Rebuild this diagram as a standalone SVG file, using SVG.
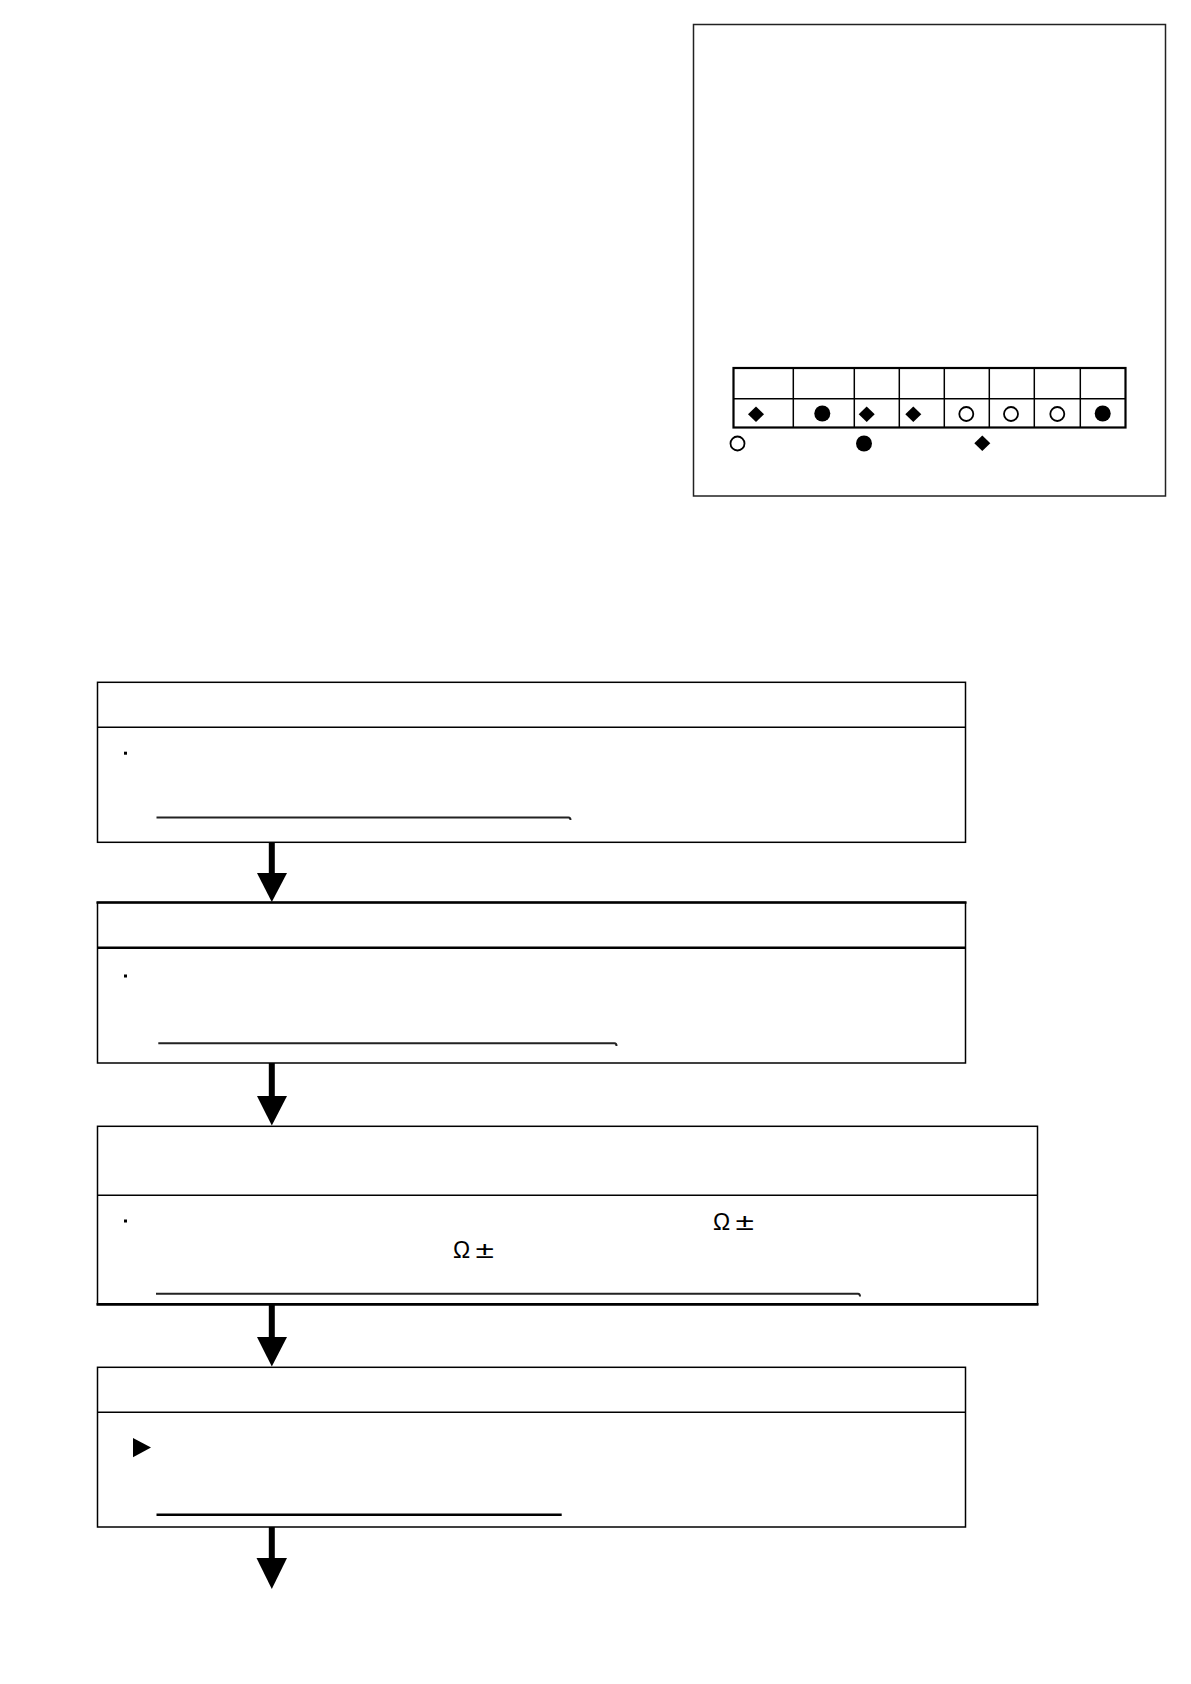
<svg xmlns="http://www.w3.org/2000/svg" width="1191" height="1684" viewBox="0 0 1191 1684">
<style>
.box{fill:none;stroke:#000;stroke-width:1.5}
.div{stroke:#000;stroke-width:1.5}
.ul{fill:none;stroke:#222;stroke-width:2}
.ulb{fill:none;stroke:#000;stroke-width:2.5}
.dot{fill:#000}
.sym{fill:#000}
.osym{fill:#fff;stroke:#000;stroke-width:1.8}
.grid{stroke:#000;stroke-width:1.5}
.shaft{stroke:#000;stroke-width:6}
.head{fill:#000}
.t{font-family:"Liberation Sans",Arial,sans-serif;font-size:23px;fill:#000}
.pm{font-family:"Liberation Sans",Arial,sans-serif;font-size:24px;fill:#000}
</style>
<rect width="1191" height="1684" fill="#fff"/>
<g id="panel">
<rect x="693.5" y="24.5" width="472" height="471.5" fill="none" stroke="#222" stroke-width="1.5"/>
<g id="table">
<rect x="733.5" y="368" width="392" height="59.5" fill="none" stroke="#000" stroke-width="2.2"/>
<line class="grid" x1="733.5" y1="398.7" x2="1125.5" y2="398.7"/>
<line class="grid" x1="793.3" y1="368" x2="793.3" y2="427.5"/>
<line class="grid" x1="854.3" y1="368" x2="854.3" y2="427.5"/>
<line class="grid" x1="899.3" y1="368" x2="899.3" y2="427.5"/>
<line class="grid" x1="944.3" y1="368" x2="944.3" y2="427.5"/>
<line class="grid" x1="989.3" y1="368" x2="989.3" y2="427.5"/>
<line class="grid" x1="1034.3" y1="368" x2="1034.3" y2="427.5"/>
<line class="grid" x1="1080.3" y1="368" x2="1080.3" y2="427.5"/>
<polygon class="sym" points="756,406.5 764,414.3 756,422 748,414.3"/>
<circle class="sym" cx="822.3" cy="413.5" r="8"/>
<polygon class="sym" points="866.7,406.5 874.7,414.3 866.7,422 858.7,414.3"/>
<polygon class="sym" points="913.3,406.5 921.3,414.3 913.3,422 905.3,414.3"/>
<circle class="osym" cx="966.3" cy="414" r="7"/>
<circle class="osym" cx="1011" cy="414" r="7"/>
<circle class="osym" cx="1057.3" cy="414" r="7"/>
<circle class="sym" cx="1102.7" cy="413.5" r="8"/>
</g>
<g id="legend">
<circle class="osym" cx="737.5" cy="443.5" r="7"/>
<circle class="sym" cx="864" cy="443.5" r="8"/>
<polygon class="sym" points="982.3,435.5 990.3,443.3 982.3,451 974.3,443.3"/>
</g>
</g>
<g id="step1">
<rect class="box" x="97.5" y="682.3" width="868" height="160"/>
<line class="div" x1="97.5" y1="727.3" x2="965.5" y2="727.3"/>
<rect class="dot" x="124" y="751.7" width="3" height="3"/>
<path class="ul" d="M156.5 817.5 H568.5 Q570.5 817.5 570.5 820"/>
</g>
<g id="step2">
<rect class="box" x="97.5" y="902.5" width="868" height="160.5"/>
<line x1="96.5" y1="902.5" x2="966.5" y2="902.5" stroke="#000" stroke-width="2.4"/>
<line class="div" style="stroke-width:2.4" x1="97.5" y1="947.8" x2="965.5" y2="947.8"/>
<rect class="dot" x="124" y="974.5" width="3" height="3"/>
<path class="ul" d="M158.3 1043.3 H614.5 Q616.5 1043.3 616.5 1046"/>
</g>
<g id="step3">
<rect class="box" x="97.5" y="1126.3" width="940" height="178"/>
<line x1="96.5" y1="1304.3" x2="1038.5" y2="1304.3" stroke="#000" stroke-width="2.8"/>
<line class="div" x1="97.5" y1="1195.3" x2="1037.5" y2="1195.3"/>
<rect class="dot" x="124" y="1219.5" width="3" height="3"/>
<text class="t" x="713" y="1229.5">Ω</text>
<text class="pm" transform="translate(735.5 1229.5) scale(1.4 1)" x="0" y="0">±</text>
<text class="t" x="453" y="1258">Ω</text>
<text class="pm" transform="translate(475.5 1258) scale(1.4 1)" x="0" y="0">±</text>
<path class="ul" d="M156 1293.7 H858 Q860 1293.7 860 1296.5"/>
</g>
<g id="step4">
<rect class="box" x="97.5" y="1367.3" width="868" height="159.7"/>
<line class="div" x1="97.5" y1="1412.3" x2="965.5" y2="1412.3"/>
<polygon class="sym" points="133,1438 151,1447.5 133,1457.3"/>
<line class="ulb" x1="156.5" y1="1514.7" x2="561.7" y2="1514.7"/>
</g>
<g id="connectors">
<line class="shaft" x1="271.8" y1="842.3" x2="271.8" y2="874"/>
<polygon class="head" points="257,873 287,873 271.8,902"/>
<line class="shaft" x1="271.8" y1="1063" x2="271.8" y2="1097"/>
<polygon class="head" points="257,1096 287,1096 271.8,1125.5"/>
<line class="shaft" x1="271.8" y1="1304.3" x2="271.8" y2="1338"/>
<polygon class="head" points="257,1337 287,1337 271.8,1366.5"/>
<line class="shaft" x1="271.8" y1="1527" x2="271.8" y2="1559"/>
<polygon class="head" points="256.5,1558 287,1558 271.8,1589"/>
</g>
</svg>
